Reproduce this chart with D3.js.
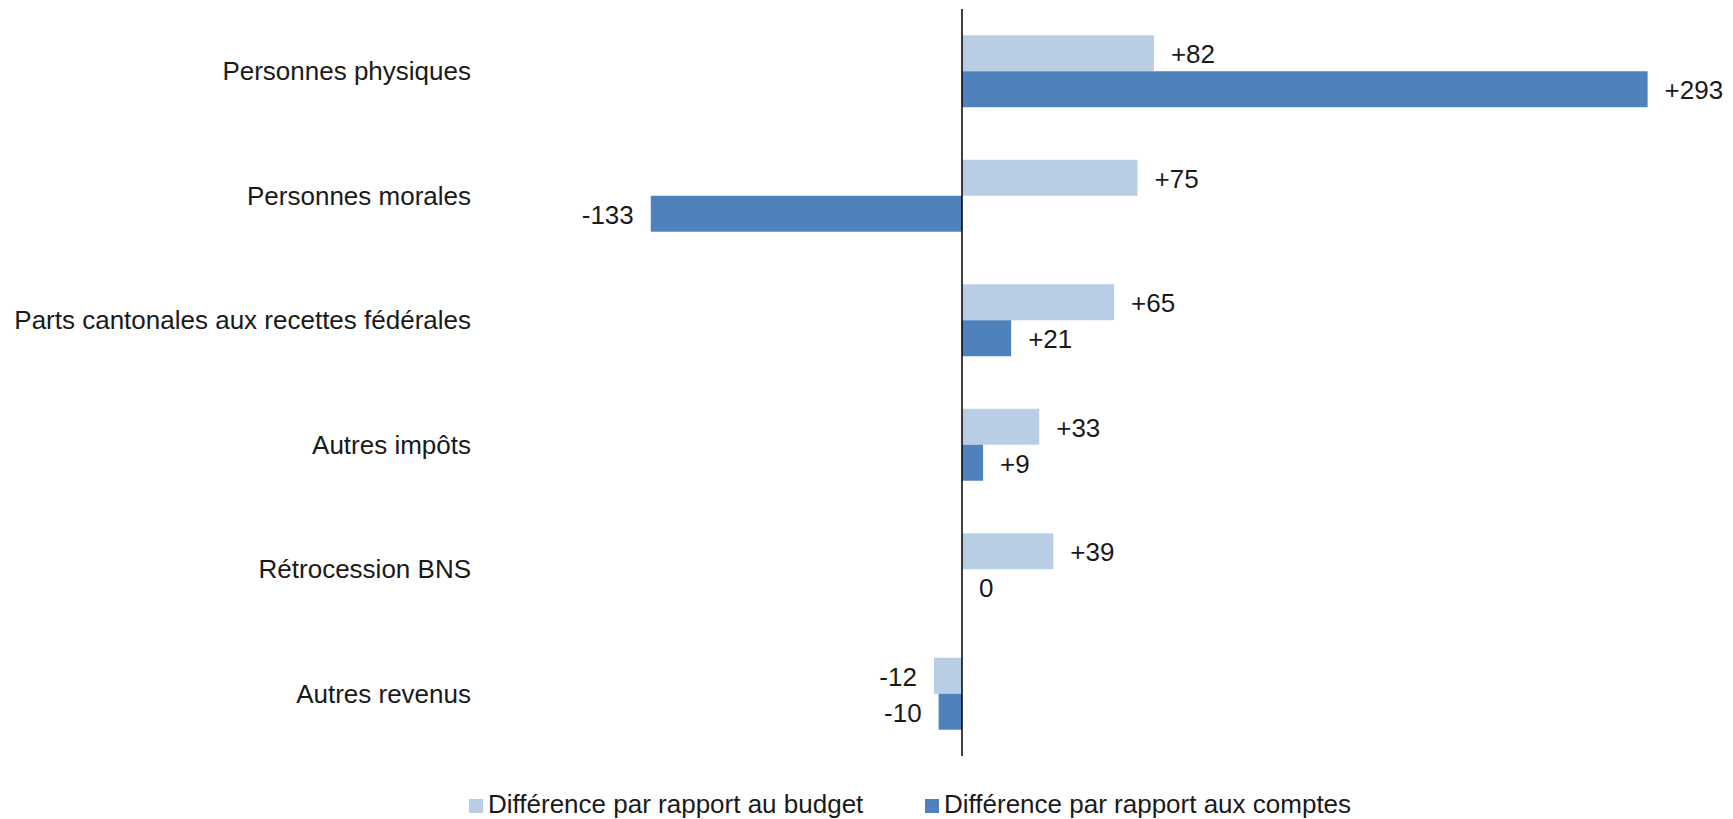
<!DOCTYPE html>
<html>
<head>
<meta charset="utf-8">
<script src="https://cdn.jsdelivr.net/npm/d3@7"></script>
<style>
  html, body { margin: 0; padding: 0; background: #fff; }
  svg { display: block; }
  text { font-family: "Liberation Sans", Arial, sans-serif; fill: #1a1a1a; }
</style>
</head>
<body>
<svg id="chart" width="1733" height="819"></svg>
<script>
const categories = [
  "Personnes physiques",
  "Personnes morales",
  "Parts cantonales aux recettes fédérales",
  "Autres impôts",
  "Rétrocession BNS",
  "Autres revenus"
];
const seriesNames = ["Différence par rapport au budget", "Différence par rapport aux comptes"];
const budgetValues = [82, 75, 65, 33, 39, -12];
const comptesValues = [293, -133, 21, 9, 0, -10];
const colors = ["#B9CDE5", "#4F81BD"];

const svg = d3.select("#chart");
const fontSize = 26;

const x = d3.scaleLinear().domain([-150, 300]).range([962 - 150 * 2.34, 962 + 300 * 2.34]);
const y0 = d3.scaleBand().domain(categories).range([9, 756]).paddingInner(0.422).paddingOuter(0.211);
const y1 = d3.scaleBand().domain(seriesNames).range([0, y0.bandwidth()]);

const data = [];
categories.forEach((c, i) => {
  data.push({ cat: c, s: seriesNames[0], v: budgetValues[i], col: colors[0] });
  data.push({ cat: c, s: seriesNames[1], v: comptesValues[i], col: colors[1] });
});

// bars
svg.append("g").selectAll("rect").data(data).enter().append("rect")
  .attr("x", d => Math.min(x(0), x(d.v)))
  .attr("width", d => Math.abs(x(d.v) - x(0)))
  .attr("y", d => y0(d.cat) + y1(d.s))
  .attr("height", y1.bandwidth())
  .attr("fill", d => d.col);

// value labels
const fmt = v => v > 0 ? "+" + v : String(v);
svg.append("g").selectAll("text").data(data).enter().append("text")
  .attr("x", d => d.v < 0 ? x(d.v) - 17 : x(d.v) + 17)
  .attr("y", d => y0(d.cat) + y1(d.s) + y1.bandwidth() / 2 + 1)
  .attr("dy", "0.35em")
  .attr("text-anchor", d => d.v < 0 ? "end" : "start")
  .style("font-size", fontSize + "px")
  .text(d => fmt(d.v));

// category labels
svg.append("g").selectAll("text").data(categories).enter().append("text")
  .attr("x", 471)
  .attr("y", d => y0(d) + y0.bandwidth() / 2)
  .attr("dy", "0.35em")
  .attr("text-anchor", "end")
  .style("font-size", fontSize + "px")
  .text(d => d);

// zero axis line
svg.append("line")
  .attr("x1", x(0)).attr("x2", x(0))
  .attr("y1", 9).attr("y2", 756)
  .attr("stroke", "#000").attr("stroke-width", 1.5);

// legend
const legendX = [469, 925];
const lg = svg.append("g").selectAll("g").data(seriesNames).enter().append("g")
  .attr("transform", (d, i) => `translate(${legendX[i]},0)`);
lg.append("rect").attr("x", 0).attr("y", 799).attr("width", 14).attr("height", 14)
  .attr("fill", (d, i) => colors[i]);
lg.append("text").attr("x", 19).attr("y", 813)
  .style("font-size", fontSize + "px")
  .text(d => d);
</script>
</body>
</html>
